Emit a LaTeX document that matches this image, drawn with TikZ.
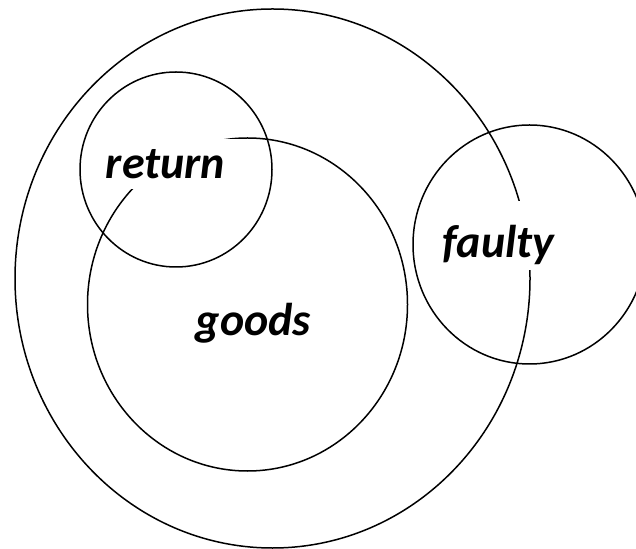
\documentclass[tikz,border=0pt]{standalone}
\usepackage{fontspec}
\setmainfont{Carlito}

\begin{document}
\begin{tikzpicture}[x=0.5pt, y=-0.5pt, line width=0.75pt,
  every node/.style={font=\fontsize{23}{28}\selectfont\bfseries\itshape, anchor=base},
  cover/.style={fill=white, inner sep=0pt}]
  \useasboundingbox (0,0) rectangle (636,549);
  \clip (0,0) rectangle (636,549);
  % sets
  \draw (272.5,278.5) ellipse [x radius=257.5, y radius=269.5];
  \draw (176,169.5) ellipse [x radius=96, y radius=97.5];
  \draw (247.5,304.5) ellipse [x radius=160, y radius=166.5];
  \draw (529.5,244.5) ellipse [x radius=116.5, y radius=119.5];
  % words
  \node[cover, inner xsep=7.5pt, text height=20pt, text depth=5pt] (ret) at (165.5,179) {return};
  \node (goods) at (253.5,336) {goods};
  \node[cover, inner xsep=2.5pt, text height=28.5pt, text depth=6pt] (faulty) at (498.5,258) {faulty};
\end{tikzpicture}
\end{document}
